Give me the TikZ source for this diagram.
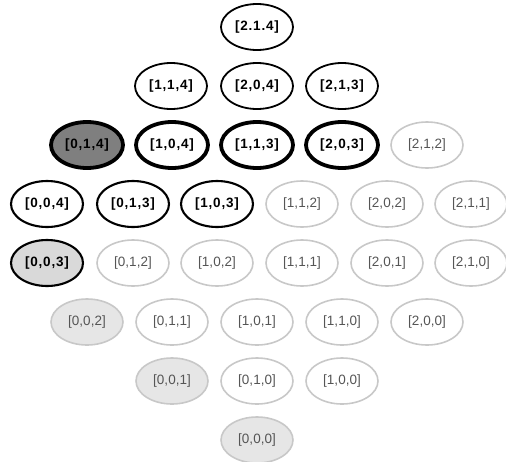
\documentclass[tikz,border=0pt]{standalone}
\usepackage{fontspec}
\setmainfont{Liberation Sans}
\newfontfamily\spacedsans[LetterSpace=6]{Liberation Sans}
\usetikzlibrary{shapes.geometric}
\definecolor{lightedge}{HTML}{C8C8C8}
\definecolor{greytext}{HTML}{555555}
\definecolor{darkfill}{HTML}{7F7F7F}
\definecolor{midfill}{HTML}{D9D9D9}
\definecolor{palefill}{HTML}{E6E6E6}
\tikzset{
  st/.style={ellipse, minimum width=72pt, minimum height=46pt, inner sep=0pt, font=\fontsize{13.5}{15}\selectfont},
  boldfont/.style={font=\fontsize{13.5}{15}\selectfont\spacedsans\bfseries},
  topst/.style={st, draw=black, line width=1.8pt, boldfont},
  heavyst/.style={st, draw=black, line width=3.8pt, boldfont},
  boldst/.style={st, draw=black, line width=2.1pt, boldfont},
  faintst/.style={st, draw=lightedge, line width=1.6pt, text=greytext},
  paleinit/.style={faintst, fill=palefill},
}
\begin{document}
\begin{tikzpicture}[x=1pt,y=-1pt]
\useasboundingbox (0,0) rectangle (506,461);
% row 1
\node[topst] (n214) at (257,27) {[2.1.4]};
% row 2
\node[topst] (n114) at (171,86) {[1,1,4]};
\node[topst] (n204) at (257,86) {[2,0,4]};
\node[topst] (n213) at (342,86) {[2,1,3]};
% row 3
\node[heavyst, fill=darkfill] (n014) at (87,145) {[0,1,4]};
\node[heavyst] (n104) at (172,145) {[1,0,4]};
\node[heavyst] (n113) at (257,145) {[1,1,3]};
\node[heavyst] (n203) at (342,145) {[2,0,3]};
\node[faintst] (n212) at (427,145) {[2,1,2]};
% row 4
\node[boldst] (n004) at (47,204) {[0,0,4]};
\node[boldst] (n013) at (133,204) {[0,1,3]};
\node[boldst] (n103) at (217,204) {[1,0,3]};
\node[faintst] (n112) at (302,204) {[1,1,2]};
\node[faintst] (n202) at (387,204) {[2,0,2]};
\node[faintst] (n211) at (471,204) {[2,1,1]};
% row 5
\node[boldst, fill=midfill] (n003) at (47,263) {[0,0,3]};
\node[faintst] (n012) at (133,263) {[0,1,2]};
\node[faintst] (n102) at (217,263) {[1,0,2]};
\node[faintst] (n111) at (302,263) {[1,1,1]};
\node[faintst] (n201) at (387,263) {[2,0,1]};
\node[faintst] (n210) at (471,263) {[2,1,0]};
% row 6
\node[paleinit] (n002) at (87,322) {[0,0,2]};
\node[faintst] (n011) at (172,322) {[0,1,1]};
\node[faintst] (n101) at (257,322) {[1,0,1]};
\node[faintst] (n110) at (342,322) {[1,1,0]};
\node[faintst] (n200) at (427,322) {[2,0,0]};
% row 7
\node[paleinit] (n001) at (172,381) {[0,0,1]};
\node[faintst] (n010) at (257,381) {[0,1,0]};
\node[faintst] (n100) at (342,381) {[1,0,0]};
% row 8
\node[paleinit] (n000) at (257,440) {[0,0,0]};
\end{tikzpicture}
\end{document}
